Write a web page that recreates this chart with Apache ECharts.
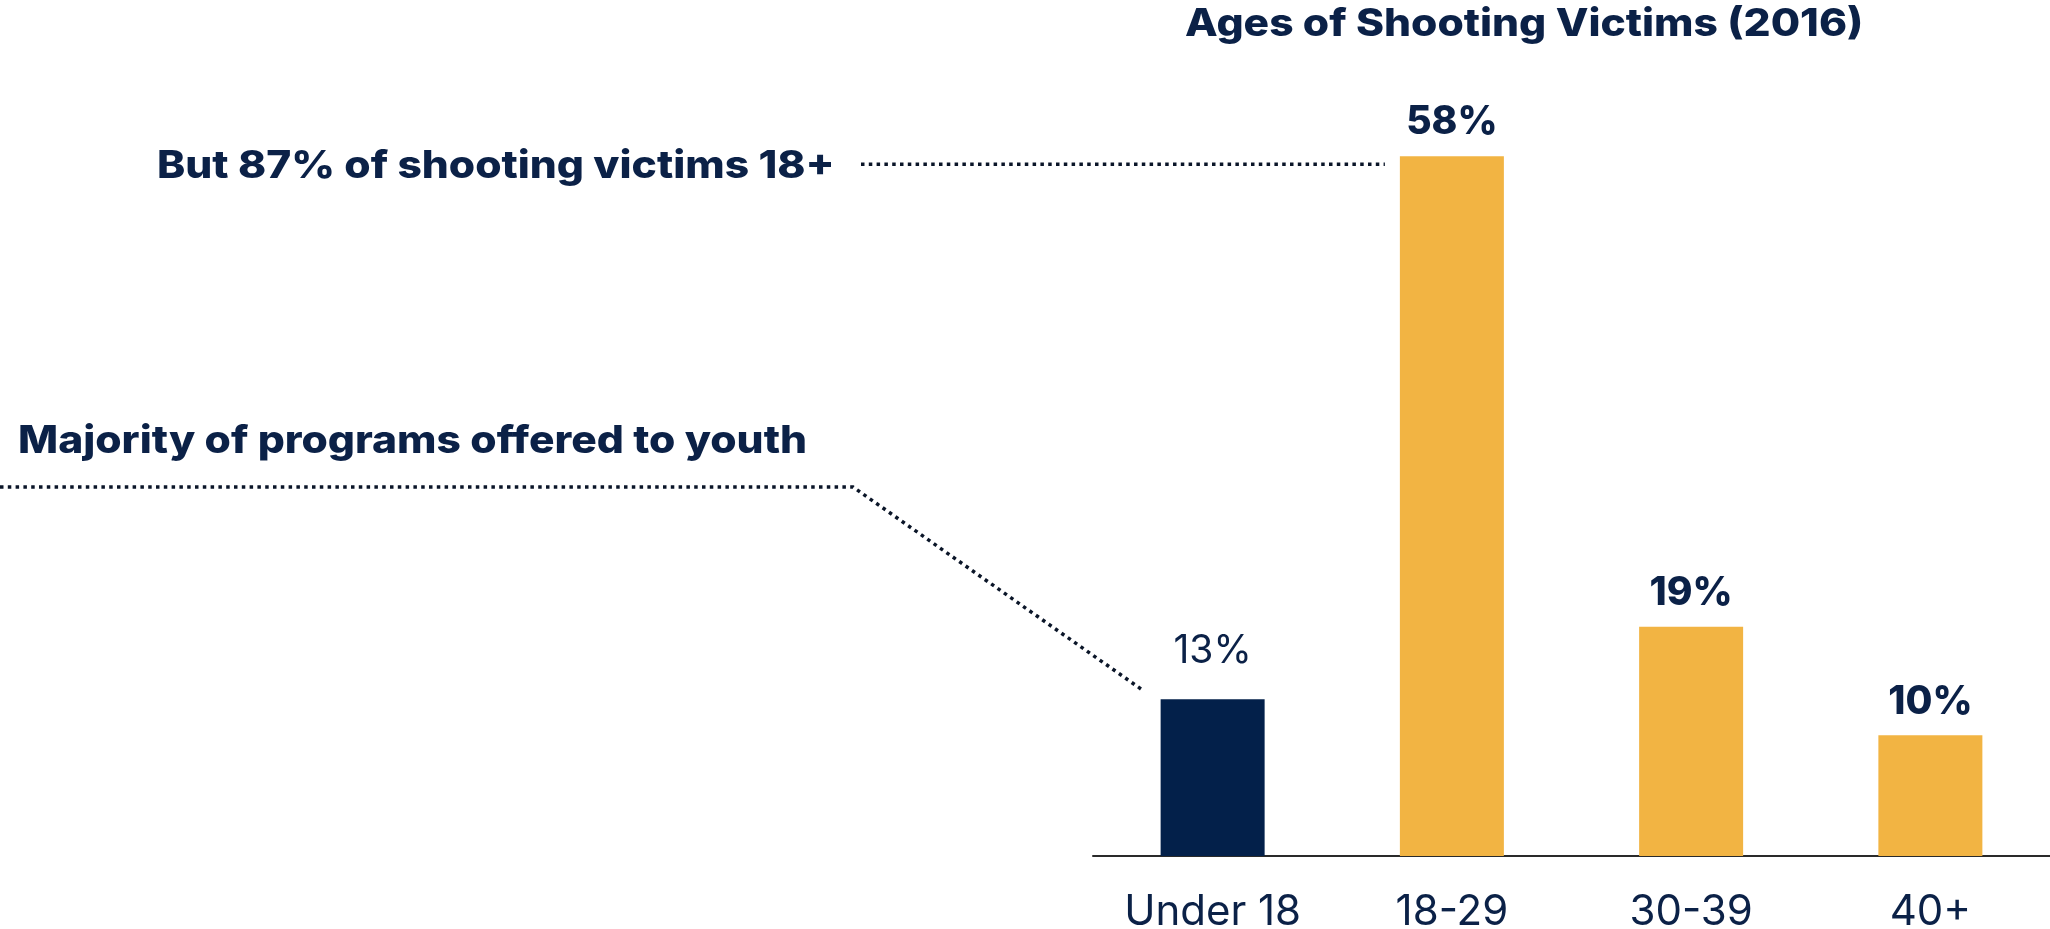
<!DOCTYPE html>
<html>
<head>
<meta charset="utf-8">
<script src="https://cdn.jsdelivr.net/npm/echarts@6/dist/echarts.min.js"></script>
<style>
  html, body { margin: 0; padding: 0; background: #ffffff; }
  #chart { width: 2050px; height: 929px; }
</style>
</head>
<body>
<div id="chart"></div>
<script>
// Share of shooting victims by age group, 2016 (percent)
const categories = ['Under 18', '18-29', '30-39', '40+'];
const shares = [13, 58, 19, 10];
const barColors = ['#03204a', '#f2b443', '#f2b443', '#f2b443'];
const labelWeights = [400, 800, 800, 800];
const labelGaps = [28, 14, 14, 14];

const titleText = 'Ages of Shooting Victims (2016)';
const noteAdults = 'But 87% of shooting victims 18+';
const noteYouth = 'Majority of programs offered to youth';

const NAVY_TEXT = '#0b2147';
const FONT = 'Inter, "Noto Sans", sans-serif';
const BAR_W = 104;
const WIDE = 1.12; // horizontal stretch for the heading type

const chart = echarts.init(document.getElementById('chart'), null, { renderer: 'canvas' });

chart.setOption({
  backgroundColor: '#ffffff',
  animation: false,
  grid: { left: 1093, right: 0, top: 132, bottom: 73, containLabel: false, outerBoundsMode: 'none' },
  xAxis: {
    type: 'category',
    data: categories,
    axisLine: { show: true, lineStyle: { color: '#2a2a2a', width: 2 } },
    axisTick: { show: false },
    axisLabel: { margin: 35, fontFamily: FONT, fontSize: 42, color: NAVY_TEXT }
  },
  yAxis: {
    type: 'value',
    min: 0,
    max: 60,
    show: false,
    splitLine: { show: false }
  },
  series: [{
    type: 'bar',
    barWidth: BAR_W,
    data: shares.map((v, i) => ({
      value: v,
      itemStyle: { color: barColors[i] },
      label: { fontWeight: labelWeights[i], distance: labelGaps[i] }
    })),
    label: {
      show: true,
      position: 'top',
      formatter: '{c}%',
      fontFamily: FONT,
      fontSize: 39,
      color: NAVY_TEXT
    }
  }]
});

// Dotted leader lines anchored to the bar tops
function barTopLeft(idx) {
  const p = chart.convertToPixel({ seriesIndex: 0 }, [idx, shares[idx]]);
  return [p[0] - BAR_W / 2, p[1]];
}
const adultTop = barTopLeft(1);
const youthTop = barTopLeft(0);

const dotted = {
  stroke: '#0a1528',
  lineWidth: 3.5,
  lineDash: [3.5, 4.3],
  lineCap: 'butt',
  fill: null
};

function heading(text, x, y) {
  return {
    type: 'text',
    x: x,
    y: y,
    scaleX: WIDE,
    style: {
      text: text,
      font: `800 38px ${FONT}`,
      fill: NAVY_TEXT,
      textAlign: 'left',
      textVerticalAlign: 'top'
    }
  };
}

chart.setOption({
  graphic: [
    heading(titleText, 1185, 6),
    heading(noteAdults, 157, 148),
    {
      type: 'polyline',
      shape: { points: [[861, adultTop[1] + 8], [adultTop[0] - 15, adultTop[1] + 8]] },
      style: dotted
    },
    heading(noteYouth, 18, 423),
    {
      type: 'polyline',
      shape: { points: [[0, 487], [853, 487], [youthTop[0] - 18, youthTop[1] - 9]] },
      style: dotted
    }
  ]
});
</script>
</body>
</html>
